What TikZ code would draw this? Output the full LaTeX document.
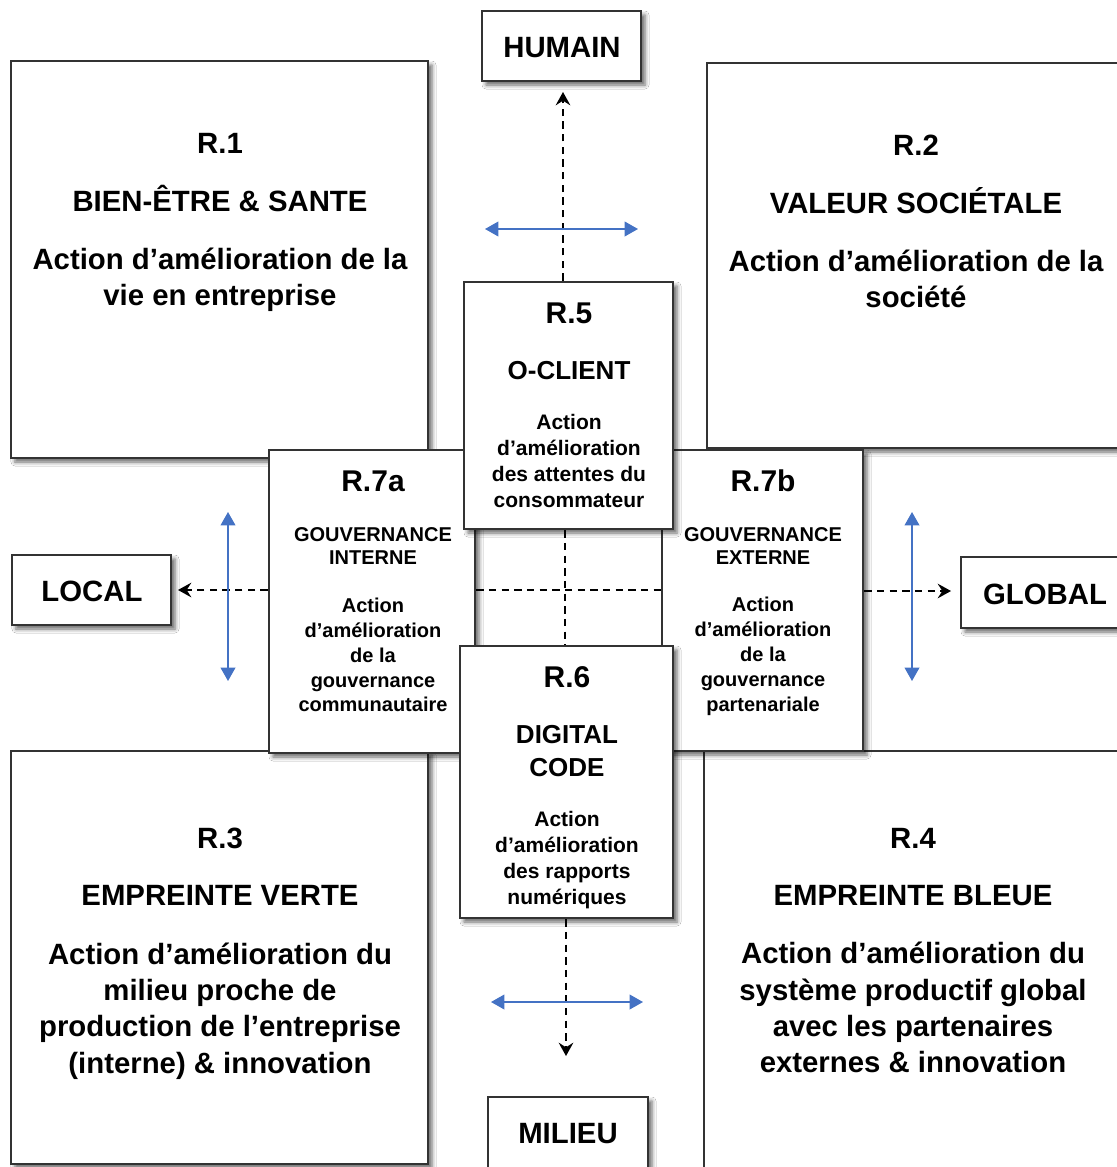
\documentclass[tikz,border=0pt]{standalone}
\usepackage{fontspec}
\setmainfont{Liberation Sans}
\usetikzlibrary{arrows.meta,fit,shadows.blur}
\definecolor{bord}{HTML}{333333}
\definecolor{blu}{HTML}{4472C4}
\begin{document}
\begin{tikzpicture}[x=0.75pt,y=-0.75pt,
  box/.style={draw=bord, line width=1.9pt, fill=white, inner sep=0pt,
    blur shadow={shadow xshift=3pt, shadow yshift=-3pt, shadow blur radius=3pt, shadow opacity=60}},
  txt/.style={inner sep=0pt, anchor=base, font=\bfseries},
  big/.style={txt, font=\fontsize{22}{26}\selectfont\bfseries, yshift=-7.9pt},
  ttl/.style={txt, font=\fontsize{22.5}{27}\selectfont\bfseries, yshift=-8.1pt},
  mid/.style={txt, font=\fontsize{19.5}{23}\selectfont\bfseries, yshift=-7pt},
  bod/.style={txt, font=\fontsize{15.75}{19}\selectfont\bfseries, yshift=-5.6pt},
  sml/.style={txt, font=\fontsize{15}{18}\selectfont\bfseries, yshift=-5.4pt},
  dasharrow/.style={line width=1.2pt, dash pattern=on 5.5pt off 4pt, -{Stealth[length=10pt,width=11pt,inset=3.5pt]}},
  dashline/.style={line width=1.2pt, dash pattern=on 5.5pt off 4pt},
  bluarrow/.style={blu, line width=1.2pt, {Triangle[length=10pt,width=11pt]}-{Triangle[length=10pt,width=11pt]}}
]
\clip (0,0) rectangle (1117,1167);
\fill[white] (0,0) rectangle (1117,1167);

% back boxes
\node[box, fit={(11,61) (428,458)}] (r1) {};
\node[box, fit={(707,63) (1124,448)}] (r2) {};
\node[box, fit={(11,751) (428,1164)}] (r3) {};
\node[box, fit={(704,751) (1121,1180)}] (r4) {};
\node[box, fit={(482,11) (641,81)}] (hum) {};
\node[box, fit={(12,555) (171,625)}] (loc) {};
\node[box, fit={(961,557) (1122,628)}] (glo) {};
\node[box, fit={(488,1097) (648,1180)}] (mil) {};
% middle boxes
\node[box, fit={(269,450) (475,753)}] (r7a) {};
\node[box, fit={(662,450) (863,751)}] (r7b) {};
\node[box, fit={(464,282) (673,529)}] (r5) {};
\node[box, fit={(460,646) (673,918)}] (r6) {};

% dashed connectors
\coordinate (humtip) at (563,92);
\coordinate (loctip) at (178,590);
\coordinate (glotip) at (951,591);
\coordinate (miltip) at (566,1056);
\draw[dasharrow] (r5.north -| humtip) -- (humtip);
\draw[dasharrow] (r7a.west |- loctip) -- (loctip);
\draw[dasharrow] (r7b.east |- glotip) -- (glotip);
\draw[dasharrow] (r6.south -| miltip) -- (miltip);
\coordinate (vx) at (565,590);
\draw[dashline] (r5.south -| vx) -- (r6.north -| vx);
\draw[dashline] (r7a.east |- vx) -- (r7b.west |- vx);

% blue double arrows
\coordinate (ta) at (485,229); \coordinate (tb) at (638,229);
\coordinate (la) at (228,512); \coordinate (lb) at (228,681);
\coordinate (ra) at (912,512); \coordinate (rb) at (912,681);
\coordinate (ba) at (491,1002); \coordinate (bb) at (643,1002);
\draw[bluarrow] (ta) -- (tb);
\draw[bluarrow] (la) -- (lb);
\draw[bluarrow] (ra) -- (rb);
\draw[bluarrow] (ba) -- (bb);

% outer labels
\node[big] (thum) at (562,47) {HUMAIN};
\node[big] (tloc) at (92,591) {LOCAL};
\node[big] (tglo) at (1045,594) {GLOBAL};
\node[big] (tmil) at (568,1133) {MILIEU};

% R.1
\node[big] (r1a) at (220,143) {R.1};
\node[big] (r1b) at (220,201) {BIEN-ÊTRE \& SANTE};
\node[big] (r1c) at (220,259) {Action d’amélioration de la};
\node[big] (r1d) at (220,295) {vie en entreprise};
% R.2
\node[big] (r2a) at (916,145) {R.2};
\node[big] (r2b) at (916,203) {VALEUR SOCIÉTALE};
\node[big] (r2c) at (916,261) {Action d’amélioration de la};
\node[big] (r2d) at (916,297) {société};
% R.3
\node[big] (r3a) at (220,838) {R.3};
\node[big] (r3b) at (220,895) {EMPREINTE VERTE};
\node[big] (r3c) at (220,954) {Action d’amélioration du};
\node[big] (r3d) at (220,990) {milieu proche de};
\node[big] (r3e) at (220,1026) {production de l’entreprise};
\node[big] (r3f) at (220,1063) {(interne) \& innovation};
% R.4
\node[big] (r4a) at (913,838) {R.4};
\node[big] (r4b) at (913,895) {EMPREINTE BLEUE};
\node[big] (r4c) at (913,953) {Action d’amélioration du};
\node[big] (r4d) at (913,990) {système productif global};
\node[big] (r4e) at (913,1026) {avec les partenaires};
\node[big] (r4f) at (913,1062) {externes \& innovation};
% R.5
\node[ttl] (r5a) at (569,313) {R.5};
\node[mid] (r5b) at (569,370) {O-CLIENT};
\node[bod] (r5c) at (569,422) {Action};
\node[bod] (r5d) at (569,448) {d’amélioration};
\node[bod] (r5e) at (569,474) {des attentes du};
\node[bod] (r5f) at (569,500) {consommateur};
% R.6
\node[ttl] (r6a) at (567,677) {R.6};
\node[mid] (r6b) at (567,734) {DIGITAL};
\node[mid] (r6c) at (567,767) {CODE};
\node[bod] (r6d) at (567,819) {Action};
\node[bod] (r6e) at (567,845) {d’amélioration};
\node[bod] (r6f) at (567,871) {des rapports};
\node[bod] (r6g) at (567,897) {numériques};
% R.7a
\node[ttl] (r7aa) at (373,481) {R.7a};
\node[sml] (r7ab) at (373,534) {GOUVERNANCE};
\node[sml] (r7ac) at (373,557) {INTERNE};
\node[sml] (r7ad) at (373,605) {Action};
\node[sml] (r7ae) at (373,630) {d’amélioration};
\node[sml] (r7af) at (373,655) {de la};
\node[sml] (r7ag) at (373,680) {gouvernance};
\node[sml] (r7ah) at (373,704) {communautaire};
% R.7b
\node[ttl] (r7ba) at (763,481) {R.7b};
\node[sml] (r7bb) at (763,534) {GOUVERNANCE};
\node[sml] (r7bc) at (763,557) {EXTERNE};
\node[sml] (r7bd) at (763,604) {Action};
\node[sml] (r7be) at (763,629) {d’amélioration};
\node[sml] (r7bf) at (763,654) {de la};
\node[sml] (r7bg) at (763,679) {gouvernance};
\node[sml] (r7bh) at (763,704) {partenariale};
\end{tikzpicture}
\end{document}
